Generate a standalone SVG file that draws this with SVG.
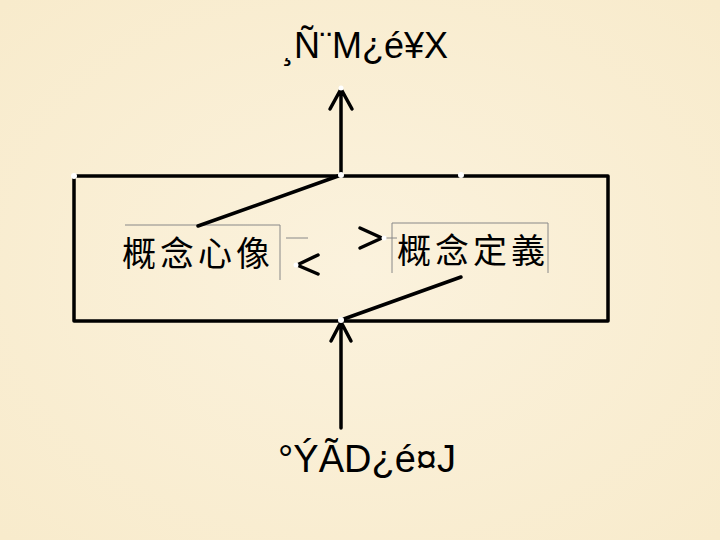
<svg xmlns="http://www.w3.org/2000/svg" width="720" height="540" viewBox="0 0 720 540">
<style>
.lat{font-family:"Liberation Sans",Arial,sans-serif;font-size:36px;fill:#000}
.cjk{font-family:"Noto Sans CJK TC","Noto Sans CJK SC",sans-serif;font-size:34px;fill:#000;letter-spacing:4px}
.ln{stroke:#000;stroke-width:3.5;fill:none;stroke-linecap:round;stroke-linejoin:round}
.thin{stroke:#888;stroke-width:1;fill:none}
.dot{fill:#fff}
</style>
<defs>
<radialGradient id="bg" cx="50%" cy="50%" r="70%">
<stop offset="0" stop-color="#FBF2DD"/>
<stop offset="1" stop-color="#F8EBCC"/>
</radialGradient>
</defs>
<rect width="720" height="540" fill="url(#bg)"/>
<g id="top-label"><text class="lat" x="365" y="58" text-anchor="middle">¸Ñ¨M¿é¥X</text></g>
<g id="bottom-label"><text class="lat" x="367" y="472" text-anchor="middle" style="font-size:38px">°ÝÃD¿é¤J</text></g>
<g id="concept-image">
<path class="thin" d="M125,225 H280 V280"/>
<text class="cjk" x="122" y="266">概念心像</text>
</g>
<g id="concept-definition">
<path class="thin" d="M392,273 V223 H548 V273"/>
<text class="cjk" x="397" y="263">概念定義</text>
</g>
<g id="connectors">
<path class="ln" d="M74,176 H608 V321 H74 Z"/>
<path class="ln" d="M341,175 V89 M330,109 L341,89 L352,109"/>
<path class="ln" d="M341,175 L198,226"/>
<path class="ln" d="M461,277 L341,320"/>
<path class="ln" d="M341,428 V322 M331,341 L341,322 L351,341"/>
<path class="ln" d="M318,255 L297,265 L318,274"/>
<path class="ln" d="M360,228 L382,238 L360,248"/>
<path class="thin" d="M286,238 H308 M384,238 H397"/>
<circle class="dot" cx="74" cy="176" r="3"/>
<circle class="dot" cx="341" cy="175" r="3"/>
<circle class="dot" cx="461" cy="175" r="3"/>
<circle class="dot" cx="341" cy="320" r="3"/>
<circle class="dot" cx="341" cy="88" r="2.5"/>
<circle class="dot" cx="296" cy="265" r="2.5"/>
<circle class="dot" cx="384" cy="238" r="2.5"/>
</g>
</svg>
